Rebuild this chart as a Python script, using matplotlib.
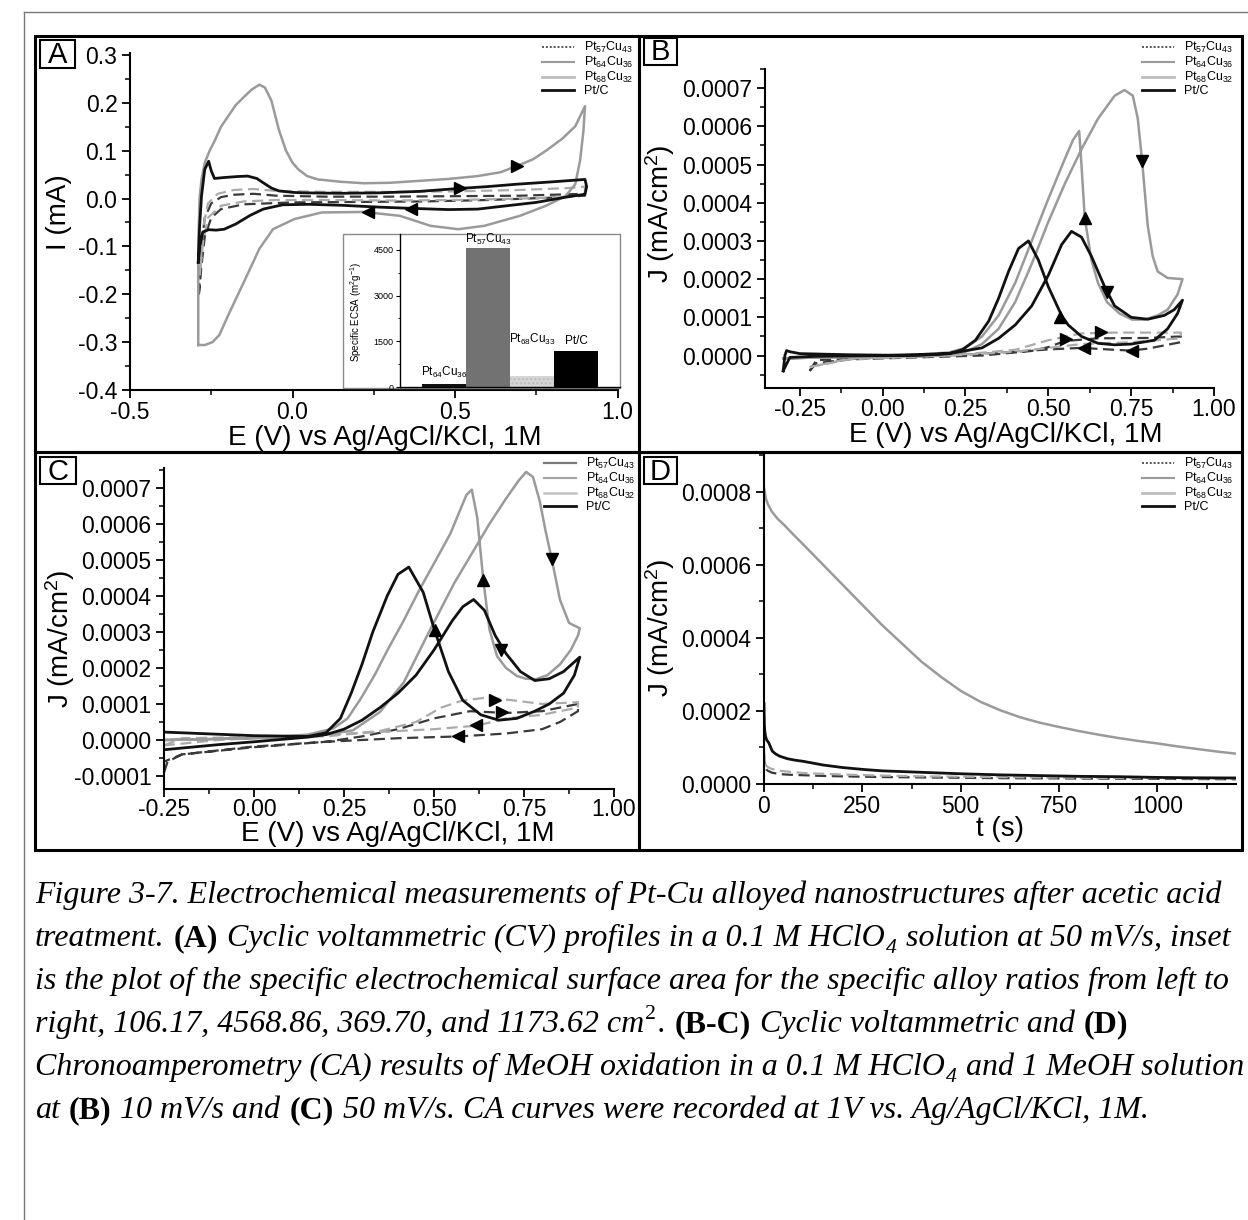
import matplotlib
matplotlib.use('Agg')
import matplotlib.pyplot as plt
from matplotlib.lines import Line2D
from matplotlib.patches import Rectangle
from matplotlib.ticker import MultipleLocator, FormatStrFormatter

plt.rcParams['font.family'] = ['Liberation Sans', 'DejaVu Sans']
plt.rcParams['axes.unicode_minus'] = False
plt.rcParams['mathtext.fontset'] = 'custom'
plt.rcParams['mathtext.rm'] = 'Liberation Sans'
plt.rcParams['mathtext.it'] = 'Liberation Sans:italic'
plt.rcParams['mathtext.default'] = 'regular'

# ---------------- DATA ----------------
legend_labels = ['Pt$_{57}$Cu$_{43}$', 'Pt$_{64}$Cu$_{36}$', 'Pt$_{68}$Cu$_{32}$', 'Pt/C']

# Panel A : CV in HClO4 (I in mA)
A_gray_E = [-0.290, -0.290, -0.286, -0.280, -0.270, -0.255, -0.240, -0.220, -0.198, -0.175, -0.150, -0.125,
            -0.102, -0.085, -0.065, -0.042, -0.020, 0.000, 0.018, 0.045, 0.078, 0.15, 0.22, 0.30, 0.39, 0.48,
            0.57, 0.64, 0.69, 0.74, 0.78, 0.83, 0.87, 0.90, 0.895, 0.885, 0.87, 0.84, 0.78, 0.70, 0.59, 0.51,
            0.425, 0.33, 0.22, 0.09, 0.005, -0.06, -0.102, -0.15, -0.198, -0.225, -0.246, -0.27, -0.290]
A_gray_I = [-0.306, -0.10, 0.0, 0.04, 0.075, 0.10, 0.12, 0.15, 0.172, 0.195, 0.212, 0.228,
            0.238, 0.232, 0.205, 0.144, 0.10, 0.075, 0.061, 0.047, 0.040, 0.035, 0.032, 0.033, 0.037, 0.041,
            0.047, 0.055, 0.068, 0.082, 0.100, 0.125, 0.151, 0.193, 0.14, 0.08, 0.03, 0.005, -0.015, -0.036,
            -0.057, -0.064, -0.057, -0.036, -0.028, -0.029, -0.043, -0.064, -0.105, -0.175, -0.244, -0.285,
            -0.300, -0.306, -0.306]
A_pt_E = [-0.290, -0.286, -0.280, -0.270, -0.258, -0.250, -0.240, -0.21, -0.17, -0.138, -0.11, -0.09, -0.065,
          -0.042, 0.00, 0.03, 0.15, 0.27, 0.39, 0.51, 0.60, 0.69, 0.80, 0.90, 0.905, 0.90, 0.85, 0.75, 0.66,
          0.57, 0.48, 0.39, 0.27, 0.15, 0.05, -0.03, -0.09, -0.13, -0.174, -0.21, -0.235, -0.258, -0.276,
          -0.285, -0.290]
A_pt_I = [-0.133, -0.06, 0.005, 0.061, 0.078, 0.058, 0.042, 0.044, 0.046, 0.047, 0.042, 0.033, 0.022,
          0.016, 0.013, 0.012, 0.011, 0.012, 0.015, 0.021, 0.025, 0.030, 0.035, 0.040, 0.025, 0.009, 0.004,
          -0.008, -0.015, -0.022, -0.023, -0.021, -0.018, -0.014, -0.012, -0.013, -0.022, -0.035, -0.053,
          -0.064, -0.066, -0.065, -0.070, -0.10, -0.133]
A_dark_E = [-0.288, -0.28, -0.27, -0.25, -0.22, -0.18, -0.12, -0.05, 0.1, 0.3, 0.5, 0.7, 0.9,
            0.9, 0.8, 0.6, 0.4, 0.2, 0.0, -0.15, -0.22, -0.25, -0.27, -0.28, -0.288]
A_dark_I = [-0.20, -0.10, -0.04, -0.01, 0.003, 0.008, 0.010, 0.006, 0.004, 0.004, 0.005, 0.006, 0.010,
            0.006, 0.002, -0.003, -0.006, -0.007, -0.008, -0.012, -0.022, -0.04, -0.08, -0.14, -0.20]
A_light_E = [-0.285, -0.275, -0.26, -0.23, -0.18, -0.12, -0.05, 0.1, 0.3, 0.5, 0.7, 0.85, 0.9,
             0.9, 0.85, 0.7, 0.5, 0.3, 0.1, -0.05, -0.15, -0.22, -0.26, -0.275, -0.285]
A_light_I = [-0.16, -0.06, -0.01, 0.010, 0.018, 0.020, 0.016, 0.014, 0.014, 0.015, 0.018, 0.022, 0.025,
             0.010, 0.003, 0.000, -0.003, -0.004, -0.003, -0.003, -0.006, -0.015, -0.04, -0.09, -0.16]
A_arrow_E = [0.69, 0.515, 0.365, 0.233]
A_arrow_I = [0.068, 0.023, -0.021, -0.029]
A_arrow_m = ['>', '>', '<', '<']

# Inset: specific ECSA
inset_names = ['Pt$_{64}$Cu$_{36}$', 'Pt$_{57}$Cu$_{43}$', 'Pt$_{68}$Cu$_{33}$', 'Pt/C']
inset_values = [106.17, 4568.86, 369.70, 1173.62]
inset_label_y = [230, 4600, 1300, 1300]

# Panel B : MeOH oxidation CV at 10 mV/s
B_gray_E = [-0.30, -0.20, -0.10, 0.00, 0.10, 0.20, 0.25, 0.30, 0.35, 0.40, 0.45, 0.50, 0.55, 0.60, 0.65,
            0.70, 0.73, 0.755, 0.77, 0.783, 0.80, 0.815, 0.83, 0.86, 0.905,
            0.89, 0.86, 0.83, 0.79, 0.753, 0.715, 0.677, 0.65, 0.63, 0.61, 0.60, 0.593, 0.575, 0.55, 0.50,
            0.45, 0.40, 0.35, 0.30, 0.25, 0.20, 0.10, 0.00, -0.10, -0.20, -0.30]
B_gray_J = [-0.000008, -0.000005, -0.000004, -0.000002, 0.0, 0.000004, 0.00001, 0.00003, 0.00007, 0.00014,
            0.00024, 0.00035, 0.00045, 0.00054, 0.00062, 0.00068, 0.000695, 0.00068, 0.00062, 0.00051,
            0.00034, 0.00026, 0.00022, 0.000203, 0.0002,
            0.00016, 0.00012, 0.000105, 0.000094, 0.000094, 0.00011, 0.00014, 0.00019, 0.00025, 0.00036,
            0.0005, 0.000588, 0.000565, 0.000515, 0.00041, 0.0003, 0.00019, 0.000105, 0.00005, 0.00002,
            0.000008, 0.000002, -0.000001, -0.000003, -0.000005, -0.000008]
B_pt_E = [-0.30, -0.295, -0.29, -0.28, -0.25, -0.10, 0.10, 0.20, 0.30, 0.35, 0.40, 0.45, 0.50, 0.54, 0.57,
          0.60, 0.63, 0.67, 0.70, 0.75, 0.80, 0.85, 0.88, 0.905,
          0.89, 0.86, 0.82, 0.75, 0.70, 0.65, 0.60, 0.56, 0.54, 0.50, 0.47, 0.44, 0.41, 0.38, 0.35, 0.32,
          0.28, 0.24, 0.20, 0.00, -0.20, -0.28, -0.30]
B_pt_J = [-0.00004, 0.0, 0.000013, 0.00001, 0.000005, 0.000002, 0.0, 0.000005, 0.00002, 0.000045, 0.00008,
          0.00013, 0.00021, 0.00029, 0.000325, 0.00031, 0.00026, 0.00018, 0.00013, 0.0001, 0.000095,
          0.000105, 0.00012, 0.000145,
          0.00011, 0.00007, 0.00004, 0.00003, 0.000028, 0.000032, 0.00005, 0.00008, 0.000105, 0.00018,
          0.00025, 0.0003, 0.00028, 0.00022, 0.00015, 0.00009, 0.00004, 0.000015, 0.000005, 0.0,
          -0.000002, -0.000005, -0.00004]
B_dark_E = [-0.22, -0.20, -0.10, 0.10, 0.30, 0.45, 0.50, 0.55, 0.65, 0.80, 0.90,
            0.90, 0.80, 0.75, 0.70, 0.60, 0.50, 0.40, 0.20, 0.00, -0.20, -0.22]
B_dark_J = [-0.00004, -0.00002, -0.00001, -0.000005, 0.0, 0.000012, 0.000022, 0.000038, 0.000045,
            0.000046, 0.00005,
            0.000035, 0.000018, 0.000013, 0.000015, 0.00002, 0.000016, 0.00001, 0.0, -0.000005,
            -0.000012, -0.00004]
B_light_E = [-0.22, -0.10, 0.20, 0.40, 0.50, 0.60, 0.70, 0.90,
             0.90, 0.75, 0.60, 0.50, 0.40, 0.20, -0.10, -0.22]
B_light_J = [-0.00003, -0.00001, 0.0, 0.000015, 0.00004, 0.000058, 0.00006, 0.00006,
             0.000045, 0.000035, 0.00003, 0.00002, 0.00001, 0.0, -0.000008, -0.00003]
B_arrow_E = [0.783, 0.61, 0.677, 0.536, 0.554, 0.66, 0.607, 0.753]
B_arrow_J = [0.00051, 0.00036, 0.000165, 0.000102, 0.000042, 0.000062, 0.00002, 0.000013]
B_arrow_m = ['v', '^', 'v', '^', '>', '>', '<', '<']

# Panel C : MeOH oxidation CV at 50 mV/s
C_gray_E = [-0.25, -0.15, -0.05, 0.05, 0.15, 0.22, 0.275, 0.35, 0.416, 0.48, 0.556, 0.60, 0.654, 0.70,
            0.735, 0.756, 0.775, 0.794, 0.81, 0.827, 0.85, 0.875, 0.905,
            0.90, 0.88, 0.85, 0.815, 0.784, 0.755, 0.73, 0.70, 0.675, 0.654, 0.637, 0.62, 0.605, 0.59,
            0.545, 0.50, 0.459, 0.415, 0.372, 0.335, 0.296, 0.26, 0.22, 0.15, 0.05, -0.05, -0.15, -0.25]
C_gray_J = [0.0, 0.000002, 0.000004, 0.000006, 0.00001, 0.000018, 0.000027, 0.000078, 0.00016, 0.000288,
            0.000435, 0.000509, 0.0006, 0.00067, 0.00072, 0.000744, 0.00073, 0.000662, 0.00058, 0.000503,
            0.000389, 0.000325, 0.00031,
            0.00029, 0.00025, 0.00021, 0.00018, 0.000169, 0.00017, 0.000178, 0.0002, 0.000233, 0.000307,
            0.000444, 0.000618, 0.000695, 0.00068, 0.000572, 0.00049, 0.000416, 0.00033, 0.000252, 0.00018,
            0.000114, 0.00006, 0.000032, 0.000015, 0.000008, 0.000004, 0.000002, 0.0]
C_pt_E = [-0.25, -0.10, 0.00, 0.15, 0.20, 0.25, 0.30, 0.35, 0.40, 0.45, 0.50, 0.55, 0.58, 0.61, 0.64, 0.67,
          0.70, 0.74, 0.78, 0.82, 0.86, 0.905,
          0.89, 0.86, 0.82, 0.78, 0.73, 0.68, 0.63, 0.58, 0.54, 0.50, 0.47, 0.43, 0.40, 0.37, 0.33, 0.30,
          0.27, 0.24, 0.20, 0.15, 0.00, -0.15, -0.25]
C_pt_J = [-0.000027, -0.000013, -0.000005, 0.000008, 0.000015, 0.00003, 0.000055, 0.00009, 0.00013,
          0.00018, 0.00025, 0.00033, 0.00037, 0.00039, 0.00036, 0.00029, 0.00024, 0.00019, 0.000165,
          0.00017, 0.00019, 0.00023,
          0.00018, 0.00013, 0.0001, 0.00008, 0.00006, 0.000055, 0.00007, 0.00011, 0.00019, 0.00031,
          0.00041, 0.00048, 0.00046, 0.0004, 0.0003, 0.00021, 0.00013, 0.00006, 0.00002, 0.00001,
          0.000012, 0.000018, 0.000022]
C_dark_E = [-0.25, -0.24, -0.20, -0.10, 0.00, 0.20, 0.30, 0.40, 0.50, 0.60, 0.70, 0.80, 0.90,
            0.90, 0.85, 0.80, 0.70, 0.57, 0.40, 0.20, 0.00, -0.20, -0.25, -0.25]
C_dark_J = [-0.00009, -0.00006, -0.00004, -0.00003, -0.00002, -0.000005, 0.00001, 0.00003, 0.00006,
            0.00008, 0.000075, 0.00008, 0.0001,
            0.00008, 0.00005, 0.00003, 0.000018, 0.00001, 0.000005, -0.000005, -0.000018, -0.00004,
            -0.00006, -0.00009]
C_light_E = [-0.25, -0.20, 0.00, 0.20, 0.35, 0.45, 0.52, 0.58, 0.65, 0.72, 0.80, 0.90,
             0.90, 0.80, 0.70, 0.62, 0.50, 0.40, 0.30, 0.10, -0.10, -0.25]
C_light_J = [-0.000015, 0.000005, 0.000008, 0.00001, 0.000025, 0.00005, 0.00009, 0.00011, 0.000118,
             0.00011, 0.0001, 0.000105,
             0.00009, 0.00007, 0.00006, 0.00004, 0.00003, 0.000025, 0.00002, 0.00001, 0.0, -0.000015]
C_arrow_E = [0.502, 0.637, 0.827, 0.686, 0.67, 0.69, 0.616, 0.567]
C_arrow_J = [0.000306, 0.000444, 0.000503, 0.00025, 0.00011, 0.000078, 0.000041, 0.000011]
C_arrow_m = ['^', '^', 'v', 'v', '>', '>', '<', '<']

# Panel D : chronoamperometry
D_gray_t = [0, 5, 10, 20, 35, 50, 75, 100, 150, 200, 250, 300, 350, 400, 450, 500, 550, 600, 650, 700,
            750, 800, 850, 900, 950, 1000, 1050, 1100, 1150, 1200]
D_gray_J = [0.00081, 0.00078, 0.000765, 0.000745, 0.000725, 0.00071, 0.000682, 0.000655, 0.0006,
            0.000545, 0.00049, 0.000435, 0.000385, 0.000335, 0.000293, 0.000255, 0.000225, 0.000202,
            0.000183, 0.000168, 0.000156, 0.000145, 0.000135, 0.000126, 0.000118, 0.000111, 0.000103,
            0.000096, 0.000089, 0.000083]
D_pt_t = [0, 0.5, 1, 2, 4, 7, 12, 21, 30, 40, 60, 80, 100, 150, 200, 250, 300, 400, 500, 600, 700, 800,
          900, 1000, 1100, 1200]
D_pt_J = [0.00022, 0.000186, 0.00016, 0.000145, 0.00013, 0.00012, 0.000113, 0.00009, 0.000082, 0.000076,
          0.000069, 0.000065, 0.000062, 0.000052, 0.000045, 0.00004, 0.000036, 0.000032, 0.000028,
          0.000025, 0.000023, 0.000021, 0.00002, 0.000018, 0.000017, 0.0000165]
D_dash_t = [0, 1, 3, 6, 10, 20, 40, 70, 100, 150, 200, 300, 400, 500, 600, 800, 1000, 1200]
D_dark_J = [0.000085, 0.00006, 0.000048, 0.00004, 0.000036, 0.000031, 0.000027, 0.000025, 0.000024,
            0.000022, 0.000021, 0.000019, 0.000018, 0.000017, 0.000016, 0.000015, 0.000014, 0.000013]
D_light_J = [0.0001, 0.00007, 0.000058, 0.00005, 0.000046, 0.000041, 0.000036, 0.000033, 0.00003,
             0.000028, 0.000026, 0.000023, 0.000021, 0.00002, 0.000019, 0.000017, 0.000016, 0.000015]

caption_lines = [
    [("Figure 3-7. Electrochemical measurements of Pt-Cu alloyed nanostructures after acetic acid", 'i')],
    [("treatment.", 'i'), (" ", 'i'), ("(A)", 'b'), (" ", 'i'),
     ("Cyclic voltammetric (CV) profiles in a 0.1 M HClO", 'i'), ("4", 'sub'), (" ", 'i'),
     ("solution at 50 mV/s, inset", 'i')],
    [("is the plot of the specific electrochemical surface area for the specific alloy ratios from left to", 'i')],
    [("right, 106.17, 4568.86, 369.70, and 1173.62 cm", 'i'), ("2", 'sup'), (".", 'i'), (" ", 'i'),
     ("(B-C)", 'b'), (" ", 'i'), ("Cyclic voltammetric and", 'i'), (" ", 'i'), ("(D)", 'b')],
    [("Chronoamperometry (CA) results of MeOH oxidation in a 0.1 M HClO", 'i'), ("4", 'sub'), (" ", 'i'),
     ("and 1 MeOH solution", 'i')],
    [("at", 'i'), (" ", 'i'), ("(B)", 'b'), (" ", 'i'), ("10 mV/s and", 'i'), (" ", 'i'), ("(C)", 'b'),
     (" ", 'i'), ("50 mV/s. CA curves were recorded at 1V vs. Ag/AgCl/KCl, 1M.", 'i')],
]

# ---------------- FIGURE ----------------
W, H = 1248, 1220
fig = plt.figure(figsize=(W / 100, H / 100), dpi=100)
fig.patch.set_facecolor('white')


def px_axes(l, t, r, b, **kw):
    return fig.add_axes([l / W, 1 - b / H, (r - l) / W, (b - t) / H], **kw)


def fx(x):
    return x / W


def fy(y):
    return 1 - y / H


STY = {
    'gray': dict(color='#9a9a9a', lw=1.8),
    'black': dict(color='#111111', lw=2.0),
    'dark': dict(color='#3a3a3a', lw=1.6, ls=(0, (5, 2.5))),
    'light': dict(color='#ababab', lw=1.6, ls=(0, (5, 2.5))),
}


def style_axes(ax, xlim, ylim, xmaj, xmin, ymaj, ymin, xfmt, yfmt, xpad=3):
    ax.set_xlim(*xlim)
    ax.set_ylim(*ylim)
    for s in ['top', 'right']:
        ax.spines[s].set_visible(False)
    for s in ['left', 'bottom']:
        ax.spines[s].set_linewidth(1.5)
    ax.xaxis.set_major_locator(MultipleLocator(xmaj))
    ax.xaxis.set_minor_locator(MultipleLocator(xmin))
    ax.yaxis.set_major_locator(MultipleLocator(ymaj))
    ax.yaxis.set_minor_locator(MultipleLocator(ymin))
    ax.xaxis.set_major_formatter(FormatStrFormatter(xfmt))
    ax.yaxis.set_major_formatter(FormatStrFormatter(yfmt))
    ax.tick_params(which='major', direction='out', length=6, width=1.3, labelsize=16.5, pad=3)
    ax.tick_params(axis='x', which='major', pad=xpad)
    ax.tick_params(which='minor', direction='out', length=3.5, width=1.1)
    ax.patch.set_alpha(0)


def arrows(ax, xs, ys, ms):
    for x, y, m in zip(xs, ys, ms):
        ax.plot([x], [y], marker=m, color='k', ms=8, ls='none', zorder=5)


# Panel A
axA = px_axes(130, 52.6, 617.5, 390)
axA.plot(A_dark_E, A_dark_I, **STY['dark'])
axA.plot(A_light_E, A_light_I, **STY['light'])
axA.plot(A_gray_E, A_gray_I, **STY['gray'])
axA.plot(A_pt_E, A_pt_I, **STY['black'])
arrows(axA, A_arrow_E, A_arrow_I, A_arrow_m)
style_axes(axA, (-0.5, 1.0), (-0.4, 0.305), 0.5, 0.25, 0.1, 0.05, '%.1f', '%.1f', xpad=2)

# inset box + axes
fig.add_artist(Rectangle((fx(343), fy(388)), (620 - 343) / W, (388 - 234) / H, transform=fig.transFigure,
                         facecolor='white', edgecolor='#8a8a8a', lw=1.0, zorder=3))
axI = px_axes(400, 234, 620, 387, zorder=4)
bar_colors = ['#111111', '#727272', '#d6d6d6', '#000000']
bar_hatch = [None, None, '....', None]
for i, (v, c, h) in enumerate(zip(inset_values, bar_colors, bar_hatch)):
    axI.bar(i + 1, v, width=1.0, color=c, hatch=h, edgecolor='#bdbdbd' if h else c, lw=0)
    axI.text(i + 1, inset_label_y[i], inset_names[i], ha='center', va='bottom', fontsize=8.5)
axI.set_xlim(0, 5.0)
axI.set_ylim(0, 5025)
for s in ['top', 'right']:
    axI.spines[s].set_visible(False)
axI.spines['left'].set_linewidth(1.0)
axI.spines['bottom'].set_linewidth(1.0)
axI.set_xticks([])
axI.yaxis.set_major_locator(MultipleLocator(1500))
axI.yaxis.set_minor_locator(MultipleLocator(750))
axI.tick_params(axis='y', which='major', direction='out', length=3, width=0.8, labelsize=6.5, pad=1.5)
axI.tick_params(axis='y', which='minor', direction='out', length=1.8, width=0.6)
axI.patch.set_alpha(0)
fig.text(fx(356), fy(312), 'Specific ECSA (m$^2$g$^{-1}$)', rotation=90, ha='center', va='center',
         fontsize=7, zorder=5)

# Panel B
axB = px_axes(765, 69, 1214, 388)
axB.plot(B_dark_E, B_dark_J, **STY['dark'])
axB.plot(B_light_E, B_light_J, **STY['light'])
axB.plot(B_gray_E, B_gray_J, **STY['gray'])
axB.plot(B_pt_E, B_pt_J, **STY['black'])
arrows(axB, B_arrow_E, B_arrow_J, B_arrow_m)
style_axes(axB, (-0.355, 1.0), (-0.000085, 0.00075), 0.25, 0.125, 0.0001, 0.00005, '%.2f', '%.4f', xpad=1)

# Panel C
axC = px_axes(164, 468, 614, 789)
axC.plot(C_dark_E, C_dark_J, **STY['dark'])
axC.plot(C_light_E, C_light_J, **STY['light'])
axC.plot(C_gray_E, C_gray_J, **STY['gray'])
axC.plot(C_pt_E, C_pt_J, **STY['black'])
arrows(axC, C_arrow_E, C_arrow_J, C_arrow_m)
style_axes(axC, (-0.25, 1.0), (-0.000136, 0.000755), 0.25, 0.125, 0.0001, 0.00005, '%.2f', '%.4f', xpad=0.5)

# Panel D
axD = px_axes(764, 455, 1236, 784)
axD.plot(D_dash_t, D_dark_J, **STY['dark'])
axD.plot(D_dash_t, D_light_J, **STY['light'])
axD.plot(D_gray_t, D_gray_J, **STY['gray'])
axD.plot(D_pt_t, D_pt_J, **STY['black'])
style_axes(axD, (0, 1200), (0, 0.0009), 250, 125, 0.0002, 0.0001, '%d', '%.4f', xpad=2)

# axis labels
lab = dict(fontsize=20, ha='center', va='center')
xl = 'E (V) vs Ag/AgCl/KCl, 1M'
fig.text(fx(385), fy(438), xl, **lab)
fig.text(fx(1006), fy(435), xl, **lab)
fig.text(fx(398), fy(834), xl, **lab)
fig.text(fx(1000), fy(829), 't (s)', **lab)
fig.text(fx(59), fy(212), 'I (mA)', rotation=90, **lab)
fig.text(fx(660), fy(214), 'J (mA/cm$^2$)', rotation=90, **lab)
fig.text(fx(60), fy(639), 'J (mA/cm$^2$)', rotation=90, **lab)
fig.text(fx(660), fy(628), 'J (mA/cm$^2$)', rotation=90, **lab)

# legends
h_std = [Line2D([], [], color='#555555', lw=1.4, ls=(0, (1, 1))),
         Line2D([], [], color='#9a9a9a', lw=1.5),
         Line2D([], [], color='#bdbdbd', lw=2.0),
         Line2D([], [], color='#111111', lw=2.0)]
h_C = [Line2D([], [], color='#7a7a7a', lw=1.6),
       Line2D([], [], color='#a5a5a5', lw=1.6),
       Line2D([], [], color='#c2c2c2', lw=1.8),
       Line2D([], [], color='#111111', lw=2.0)]


def add_legend(handles, right_px, top_px):
    leg = fig.legend(handles, legend_labels, loc='upper right',
                     bbox_to_anchor=(fx(right_px), fy(top_px)), frameon=False, fontsize=9,
                     handlelength=2.6, handletextpad=0.8, labelspacing=0.0, borderpad=0.0,
                     borderaxespad=0.0)
    leg.set_zorder(6)


add_legend(h_std, 634, 40)
add_legend(h_std, 1234, 40)
add_legend(h_C, 636, 456)
add_legend(h_std, 1234, 456)

# panel frames
for (l, t, r, b) in [(35, 36, 639, 452), (639, 36, 1242, 452), (35, 452, 639, 850), (639, 452, 1242, 850)]:
    fig.add_artist(Rectangle((fx(l), fy(b)), (r - l) / W, (b - t) / H, transform=fig.transFigure,
                             fill=False, edgecolor='black', lw=2.2, zorder=7))
# panel letters
for letter, (l, t, r, b) in zip('ABCD', [(40, 40, 75, 68), (644, 38, 677, 65), (40, 457, 76, 484),
                                        (644, 457, 677, 484)]):
    fig.add_artist(Rectangle((fx(l), fy(b)), (r - l) / W, (b - t) / H, transform=fig.transFigure,
                             facecolor='white', edgecolor='black', lw=1.5, zorder=7))
    fig.text(fx((l + r) / 2), fy((t + b) / 2 + 1), letter, ha='center', va='center', fontsize=21, zorder=8)

# outer page border
fig.add_artist(Line2D([fx(24), fx(24)], [fy(12), fy(1220)], transform=fig.transFigure, color='#777777', lw=1))
fig.add_artist(Line2D([fx(24), fx(1248)], [fy(12), fy(12)], transform=fig.transFigure, color='#777777', lw=1))

# caption
renderer = fig.canvas.get_renderer()
SERIF = 'Liberation Serif'


def seg_props(sty, fs):
    if sty == 'b':
        return dict(family=SERIF, fontsize=fs, weight='bold'), 0
    if sty == 'sub':
        return dict(family=SERIF, fontsize=fs * 0.68, style='italic'), -fs * 0.22 * 100 / 72
    if sty == 'sup':
        return dict(family=SERIF, fontsize=fs * 0.68), fs * 0.42 * 100 / 72
    return dict(family=SERIF, fontsize=fs, style='italic'), 0


def measure(s, props):
    t = fig.text(0, 0, s, **props)
    w = t.get_window_extent(renderer=renderer).width
    t.remove()
    return w


fs0 = 20
w1 = measure(caption_lines[0][0][0], seg_props('i', fs0)[0])
fs = fs0 * 1187.0 / w1
space_w = measure('x x', seg_props('i', fs)[0]) - measure('xx', seg_props('i', fs)[0])
baselines = [903, 946, 989, 1032, 1075, 1118]
for segs, yb in zip(caption_lines, baselines):
    x = 35.0
    for txt, sty in segs:
        if txt == ' ':
            x += space_w
            continue
        props, dy = seg_props(sty, fs)
        t = fig.text(fx(x), fy(yb - dy), txt, ha='left', va='baseline', **props)
        x += t.get_window_extent(renderer=renderer).width + 1

fig.savefig('out.png', dpi=100, facecolor='white')
